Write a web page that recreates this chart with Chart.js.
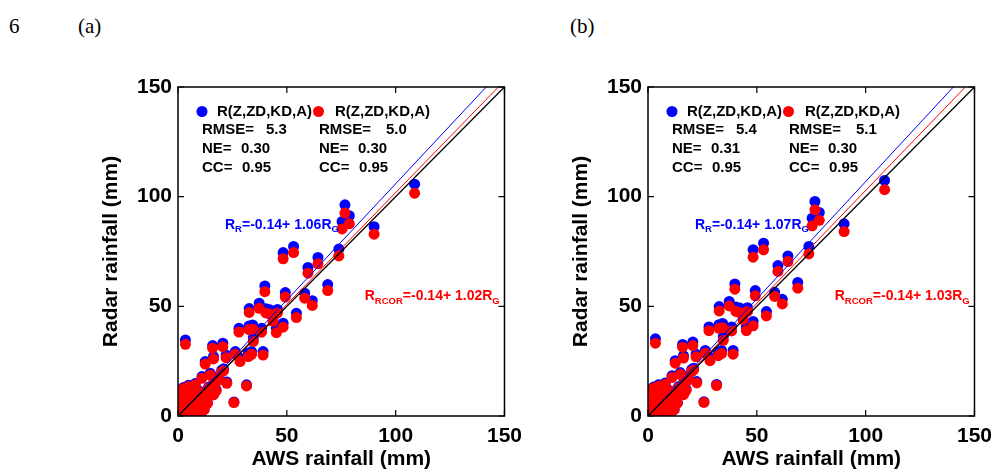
<!DOCTYPE html>
<html lang="en">
<head>
<meta charset="UTF-8">
<title>Radar vs AWS rainfall</title>
<script src="https://cdn.jsdelivr.net/npm/chart.js"></script>
<style>
  body { margin: 0; background: #fff; width: 995px; height: 472px; overflow: hidden; position: relative; }
  .lbl { position: absolute; top: 16px; font-family: "Liberation Serif", serif; font-size: 21px; line-height: 21px; color: #000; }
  .panel { position: absolute; top: 0; width: 530px; height: 472px; }
</style>
</head>
<body>
<div class="lbl" style="left:9px">6</div>
<div class="lbl" style="left:78px">(a)</div>
<div class="lbl" style="left:570px">(b)</div>
<div class="panel" style="left:0"><canvas id="chartA"></canvas></div>
<div class="panel" style="left:470px"><canvas id="chartB"></canvas></div>
<script>
// AWS gauge rainfall (mm), same gauges in both panels
const AWS = [108.7, 90.1, 76.7, 78.7, 75.4, 73.9, 68.8, 64.3, 59.7, 58.2,
  61.7, 53.1, 48.3, 49.3, 54.4, 48.3, 45.2, 39.9, 37.3, 32.7,
  40.4, 42.2, 45.7, 43.7, 34.3, 32.6, 38.4, 34.6, 28.0, 39.1,
  33.8, 32.3, 26.3, 28.5, 20.6, 22.1, 15.9, 16.3, 12.5, 3.4,
  31.5, 25.7, 22.4, 20.9, 11.0, 14.8, 16.4, 20.1, 16.3, 4.8,
  7.9, 1.8, 6.4, 11.0, 14.0, 9.4, 3.3, 12.5, 7.9, 1.1,
  4.8, 16.3, 0.5, 1.5, 2.5, 3.0, 5.5, 6.0, 7.0, 8.5,
  10.0, 2.0, 0.8, 4.0, 9.5, 6.8, 11.5, 5.0, 13.0, 0.3,
  3.6, 8.0, 10.5, 1.2, 17.5, 18.5, 12.0, 9.0, 13.5, 2.6];

// panel (a) radar rainfall
const RADAR_A = [105.7, 86.3, 96.3, 91.3, 88.7, 76.1, 59.9, 72.3, 67.7, 56.0,
  52.6, 77.3, 74.5, 56.3, 46.9, 42.3, 40.0, 59.3, 51.4, 49.0,
  48.9, 48.4, 48.6, 45.0, 41.5, 41.0, 40.0, 35.6, 40.0, 29.4,
  29.4, 28.6, 29.4, 26.3, 33.2, 27.8, 32.1, 27.1, 24.8, 34.7,
  14.2, 6.4, 15.5, 21.5, 18.0, 19.5, 17.8, 20.9, 10.0, 14.0,
  14.8, 10.8, 11.6, 10.8, 13.1, 7.6, 6.0, 6.8, 2.8, 2.1,
  4.4, 14.8, 0.6, 0.8, 3.5, 1.2, 7.5, 2.0, 9.0, 5.5,
  4.0, 8.0, 5.0, 9.5, 11.5, 12.0, 8.0, 0.5, 10.5, 2.8,
  11.0, 0.8, 1.5, 12.0, 12.0, 17.0, 3.0, 1.0, 6.0, 13.0];
const RCOR_A = [101.6, 82.9, 92.5, 87.6, 85.3, 73.0, 57.2, 69.4, 65.1, 53.7,
  50.4, 74.5, 71.7, 54.2, 44.9, 40.5, 38.0, 56.7, 49.1, 47.2,
  47.0, 46.4, 47.0, 43.2, 39.6, 39.4, 38.2, 34.0, 38.3, 27.8,
  28.1, 27.1, 28.2, 24.8, 31.6, 26.6, 30.9, 26.0, 23.7, 32.7,
  13.7, 6.1, 14.9, 20.6, 17.2, 18.7, 17.1, 20.1, 9.6, 13.4,
  14.2, 10.4, 11.1, 10.4, 12.6, 7.3, 5.8, 6.5, 2.7, 2.0,
  4.2, 14.2, 0.5, 0.8, 3.4, 1.1, 7.2, 1.9, 8.6, 5.3,
  3.8, 7.7, 4.8, 9.1, 11.0, 11.5, 7.7, 0.5, 10.1, 2.7,
  10.6, 0.8, 1.4, 11.5, 11.5, 16.3, 2.9, 1.0, 5.8, 12.5];

// panel (b) radar rainfall
const RADAR_B = [107.4, 87.6, 97.8, 92.8, 90.2, 77.3, 60.9, 73.0, 68.6, 56.4,
  53.2, 78.8, 75.8, 57.2, 47.6, 43.1, 40.8, 60.2, 52.2, 49.9,
  49.7, 49.2, 49.4, 45.7, 42.2, 41.6, 40.6, 36.2, 40.6, 29.9,
  29.9, 29.1, 29.9, 26.7, 33.7, 28.2, 32.6, 27.5, 25.2, 35.2,
  14.4, 6.5, 15.7, 21.8, 18.3, 19.8, 18.1, 21.2, 10.2, 14.2,
  15.0, 11.0, 11.8, 11.0, 13.3, 7.7, 6.1, 6.9, 2.8, 2.1,
  4.5, 15.0, 0.6, 0.8, 3.6, 1.2, 7.6, 2.0, 9.1, 5.6,
  4.1, 8.1, 5.1, 9.6, 11.7, 12.2, 8.1, 0.5, 10.7, 2.8,
  11.2, 0.8, 1.5, 12.2, 12.2, 17.3, 3.0, 1.0, 6.1, 13.2];
const RCOR_B = [103.2, 84.1, 94.0, 89.2, 86.7, 73.9, 58.3, 70.4, 65.9, 54.5,
  51.1, 75.8, 72.4, 54.8, 45.6, 41.1, 38.9, 57.8, 50.2, 47.9,
  47.7, 47.1, 47.7, 43.9, 40.2, 40.0, 38.8, 34.5, 38.9, 28.2,
  28.5, 27.5, 28.6, 25.2, 32.1, 27.0, 31.4, 26.4, 24.1, 33.2,
  13.9, 6.2, 15.1, 20.9, 17.5, 19.0, 17.4, 20.4, 9.7, 13.6,
  14.4, 10.6, 11.3, 10.6, 12.8, 7.4, 5.9, 6.6, 2.7, 2.0,
  4.3, 14.4, 0.5, 0.8, 3.4, 1.1, 7.3, 1.9, 8.7, 5.4,
  3.9, 7.8, 4.9, 9.2, 11.2, 11.7, 7.8, 0.5, 10.2, 2.7,
  10.8, 0.8, 1.4, 11.7, 11.7, 16.5, 2.9, 1.0, 5.9, 12.7];

// line end points [x, y]
const ONE_TO_ONE = [[0, 0], [150, 150]];
const FIT_R_A = [[0, -0.14], [141.6, 150]];
const FIT_RCOR_A = [[0, -0.14], [147.2, 150]];
const FIT_R_B = [[0, -0.14], [140.3, 150]];
const FIT_RCOR_B = [[0, -0.14], [145.8, 150]];

const TICKS = [0, 50, 100, 150];

const STATS_A = { r: ['5.3', '0.30', '0.95'], rcor: ['5.0', '0.30', '0.95'] };
const STATS_B = { r: ['5.4', '0.31', '0.95'], rcor: ['5.1', '0.30', '0.95'] };
const SLOPES_A = ['1.06', '1.02'];
const SLOPES_B = ['1.07', '1.03'];

const BLUE = '#0000ff';
const RED = '#ff0000';
const SANS = '"Liberation Sans", Arial, sans-serif';

function pts(xs, ys) {
  return xs.map((x, i) => ({ x: x, y: ys[i] }));
}

function seg(p) {
  return p.map(v => ({ x: v[0], y: v[1] }));
}

// draws text with subscript parts: [[text, isSub], ...]
function drawRich(ctx, parts, x, y, color) {
  ctx.fillStyle = color;
  ctx.textBaseline = 'middle';
  ctx.textAlign = 'left';
  parts.forEach(p => {
    ctx.font = p[1] ? 'bold 9.5px ' + SANS : 'bold 14px ' + SANS;
    ctx.fillText(p[0], x, p[1] ? y + 5 : y);
    x += ctx.measureText(p[0]).width;
  });
}

const framePlugin = {
  id: 'frame',
  afterDatasetsDraw(chart, args, opts) {
    const { ctx, chartArea: a, scales: { x, y } } = chart;
    ctx.save();
    // box and inward ticks on all sides
    ctx.strokeStyle = '#000';
    ctx.lineWidth = 1.5;
    ctx.strokeRect(a.left, a.top, a.right - a.left, a.bottom - a.top);
    ctx.lineWidth = 1.2;
    ctx.beginPath();
    TICKS.forEach(v => {
      const px = x.getPixelForValue(v), py = y.getPixelForValue(v);
      ctx.moveTo(px, a.bottom); ctx.lineTo(px, a.bottom - 6);
      ctx.moveTo(px, a.top); ctx.lineTo(px, a.top + 6);
      ctx.moveTo(a.left, py); ctx.lineTo(a.left + 6, py);
      ctx.moveTo(a.right, py); ctx.lineTo(a.right - 6, py);
    });
    ctx.stroke();

    // legend with statistics
    const L = a.left, T = a.top;
    ctx.fillStyle = BLUE;
    ctx.beginPath(); ctx.arc(L + 24, T + 24.5, 5.5, 0, Math.PI * 2); ctx.fill();
    ctx.fillStyle = RED;
    ctx.beginPath(); ctx.arc(L + 140.5, T + 24.5, 5.5, 0, Math.PI * 2); ctx.fill();
    ctx.fillStyle = '#000';
    ctx.font = 'bold 15px ' + SANS;
    ctx.textBaseline = 'middle';
    ctx.textAlign = 'left';
    ctx.fillText('R(Z,ZD,KD,A)', L + 39, T + 25);
    ctx.fillText('R(Z,ZD,KD,A)', L + 157, T + 25);
    const names = ['RMSE=', 'NE=', 'CC='];
    const off1 = [88, 63, 64], off2 = [208, 180, 181];
    names.forEach((n, i) => {
      const ty = T + 43 + i * 19;
      ctx.fillText(n, L + 24, ty);
      ctx.fillText(opts.stats.r[i], L + off1[i], ty);
      ctx.fillText(n, L + 141, ty);
      ctx.fillText(opts.stats.rcor[i], L + off2[i], ty);
    });

    // regression equations
    drawRich(ctx, [['R', false], ['R', true], ['=-0.14+ ' + opts.slopes[0] + 'R', false], ['G', true]],
      x.getPixelForValue(21.6), y.getPixelForValue(87.2), BLUE);
    drawRich(ctx, [['R', false], ['RCOR', true], ['=-0.14+ ' + opts.slopes[1] + 'R', false], ['G', true]],
      x.getPixelForValue(85.8), y.getPixelForValue(54.6), RED);
    ctx.restore();
  }
};

function makeChart(id, radar, rcor, fitR, fitRcor, stats, slopes) {
  const tickFont = { family: SANS, size: 21, weight: 'bold' };
  return new Chart(document.getElementById(id), {
    type: 'scatter',
    data: {
      datasets: [
        { type: 'line', data: seg(ONE_TO_ONE), borderColor: '#000', borderWidth: 1.3, pointRadius: 0, order: 0 },
        { type: 'line', data: seg(fitRcor), borderColor: RED, borderWidth: 1, pointRadius: 0, order: 1 },
        { type: 'line', data: seg(fitR), borderColor: BLUE, borderWidth: 1, pointRadius: 0, order: 2 },
        { label: 'R(Z,ZD,KD,A) RCOR', data: pts(AWS, rcor), backgroundColor: RED, borderWidth: 0, pointRadius: 5.5, order: 3 },
        { label: 'R(Z,ZD,KD,A)', data: pts(AWS, radar), backgroundColor: BLUE, borderWidth: 0, pointRadius: 5.5, order: 4 }
      ]
    },
    options: {
      responsive: true,
      maintainAspectRatio: false,
      animation: false,
      layout: { padding: { left: 95, top: 87, right: 24, bottom: 0 } },
      plugins: {
        legend: { display: false },
        tooltip: { enabled: false },
        frame: { stats: stats, slopes: slopes }
      },
      scales: {
        x: {
          type: 'linear', min: 0, max: 150,
          grid: { display: false, drawTicks: false },
          border: { display: false },
          ticks: { stepSize: 50, color: '#000', font: tickFont, padding: 8, maxRotation: 0 },
          title: { display: true, text: 'AWS rainfall (mm)', color: '#000', font: tickFont, padding: { top: 0, bottom: 0 } },
          afterFit(s) { s.height = 56; }
        },
        y: {
          type: 'linear', min: 0, max: 150,
          grid: { display: false, drawTicks: false },
          border: { display: false },
          ticks: { stepSize: 50, color: '#000', font: tickFont, padding: 6 },
          title: { display: true, text: 'Radar rainfall (mm)', color: '#000', font: tickFont, padding: { top: 4, bottom: 0 } },
          afterFit(s) { s.width = 83; }
        }
      }
    },
    plugins: [framePlugin]
  });
}

makeChart('chartA', RADAR_A, RCOR_A, FIT_R_A, FIT_RCOR_A, STATS_A, SLOPES_A);
makeChart('chartB', RADAR_B, RCOR_B, FIT_R_B, FIT_RCOR_B, STATS_B, SLOPES_B);
</script>
</body>
</html>
